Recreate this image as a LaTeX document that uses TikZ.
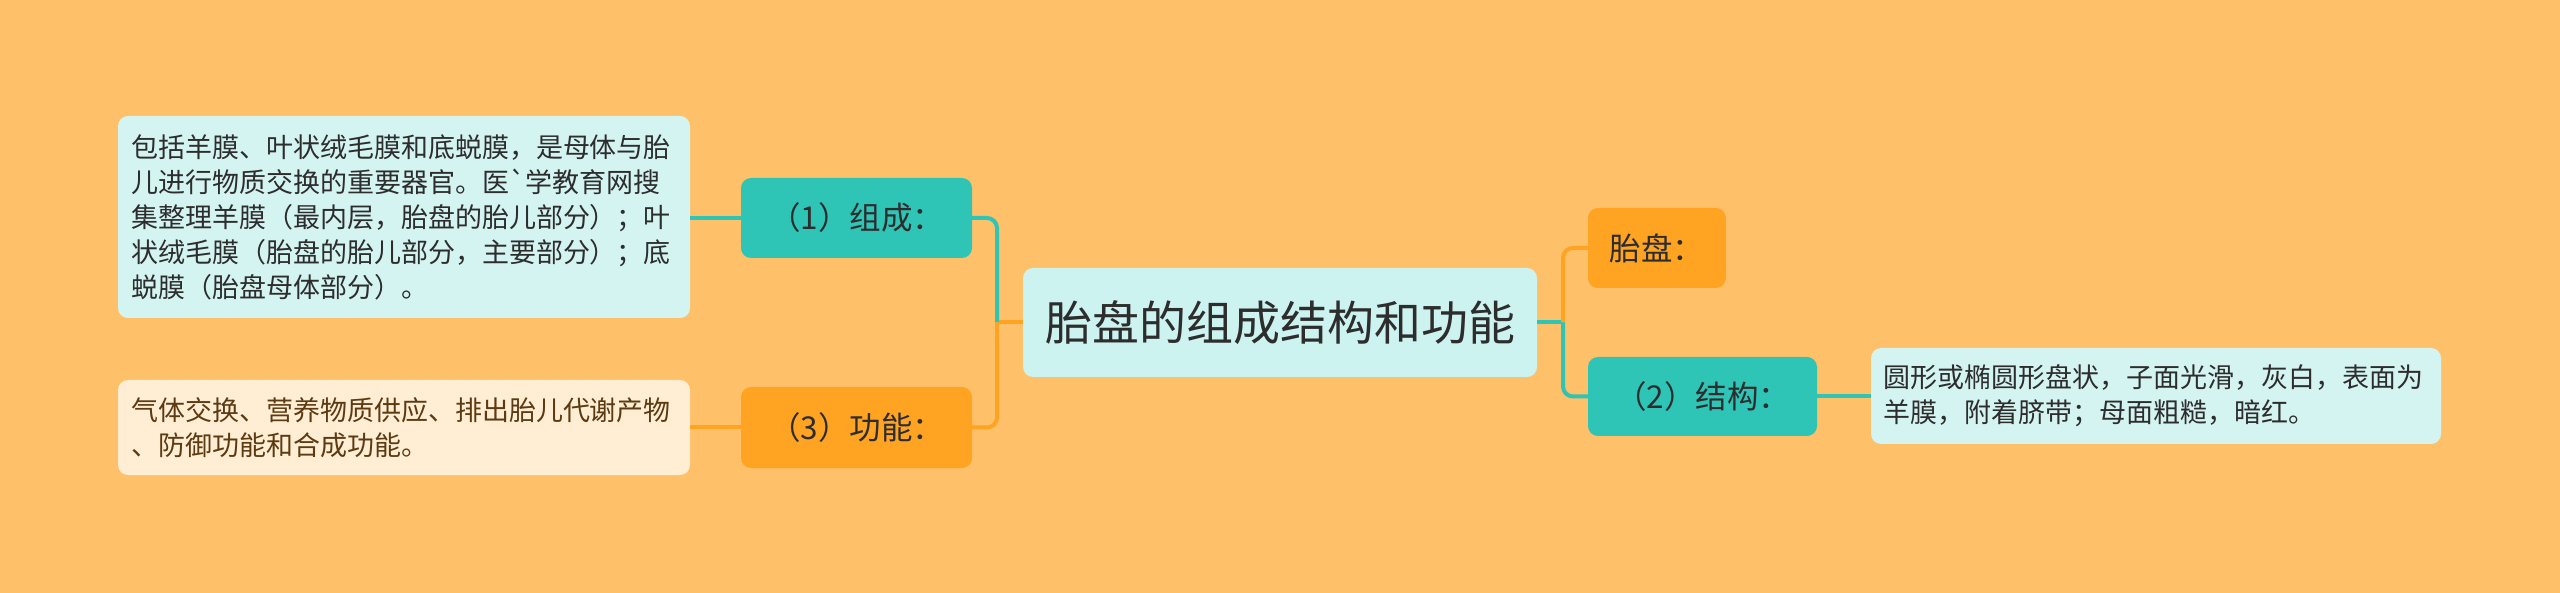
\documentclass[tikz,border=0pt]{standalone}
\usepackage{fontspec}
\setmainfont{Noto Sans CJK SC}[Ligatures=TeXOff]
\definecolor{bgc}{RGB}{255,192,106}
\definecolor{tealc}{RGB}{46,196,182}
\definecolor{orangec}{RGB}{255,163,35}
\definecolor{rootc}{RGB}{204,243,240}
\definecolor{leafc}{RGB}{212,244,242}
\definecolor{creamc}{RGB}{255,238,212}
\definecolor{txtc}{RGB}{45,45,45}
\definecolor{browntxt}{RGB}{92,58,18}
\tikzset{
  basebox/.style={rounded corners=10pt, inner sep=0pt, draw=none},
  rootbox/.style={basebox, fill=rootc, text=txtc, font=\fontsize{47}{52}\selectfont},
  tealbox/.style={basebox, fill=tealc, text=txtc, font=\fontsize{31.5}{36}\selectfont},
  orangebox/.style={basebox, fill=orangec, text=txtc, font=\fontsize{31.5}{36}\selectfont},
  leafbox/.style={basebox, fill=leafc, text=txtc, font=\fontsize{27}{35}\selectfont, text width=546pt, align=left},
  creambox/.style={basebox, fill=creamc, text=browntxt, font=\fontsize{27}{35}\selectfont, text width=546pt, align=left},
  tealline/.style={draw=tealc, line width=4pt, rounded corners=10pt},
  orangeline/.style={draw=orangec, line width=4pt, rounded corners=10pt}
}
\begin{document}
\begin{tikzpicture}[x=1pt,y=-1pt]
\useasboundingbox (0,0) rectangle (2560,593);
\fill[bgc] (0,0) rectangle (2560,593);

% nodes
\node[rootbox, minimum width=514pt, minimum height=109pt] (root) at (1280,322.5) {胎盘的组成结构和功能};
\node[tealbox, minimum width=231pt, minimum height=80pt] (c1) at (856.5,218) {（1）组成：};
\node[orangebox, minimum width=231pt, minimum height=81pt] (c3) at (856.5,427.5) {（3）功能：};
\node[orangebox, minimum width=138pt, minimum height=80pt] (c0) at (1657,248) {胎盘：};
\node[tealbox, minimum width=229pt, minimum height=79pt] (c2) at (1702.5,396.5) {（2）结构：};

\node[leafbox, minimum width=572pt, minimum height=202pt] (l1) at (404,217) {包括羊膜、叶状绒毛膜和底蜕膜，是母体与胎\\儿进行物质交换的重要器官。医`学教育网搜\\集整理羊膜（最内层，胎盘的胎儿部分）；叶\\状绒毛膜（胎盘的胎儿部分，主要部分）；底\\蜕膜（胎盘母体部分）。};
\node[creambox, minimum width=572pt, minimum height=95pt] (l3) at (404,427.5) {气体交换、营养物质供应、排出胎儿代谢产物\\、防御功能和合成功能。};
\node[leafbox, minimum width=570pt, minimum height=96pt] (l2) at (2156,396) {圆形或椭圆形盘状，子面光滑，灰白，表面为\\羊膜，附着脐带；母面粗糙，暗红。};

% junctions
\coordinate (jL) at (997,322.5);
\coordinate (jR) at (1563,322.5);

% connectors left
\draw[orangeline] (root.west) -- (jL);
\draw[tealline] (jL) |- (c1.east);
\draw[orangeline] (jL) |- (c3.east);
% connectors right
\draw[tealline] (root.east) -- (jR);
\draw[orangeline] (jR) |- (c0.west);
\draw[tealline] (jR) |- (c2.west);
% leaf connectors
\draw[tealline] (c1.west) -- (l1.east |- c1.west);
\draw[orangeline] (c3.west) -- (l3.east |- c3.west);
\draw[tealline] (c2.east) -- (l2.west |- c2.east);
\end{tikzpicture}
\end{document}
